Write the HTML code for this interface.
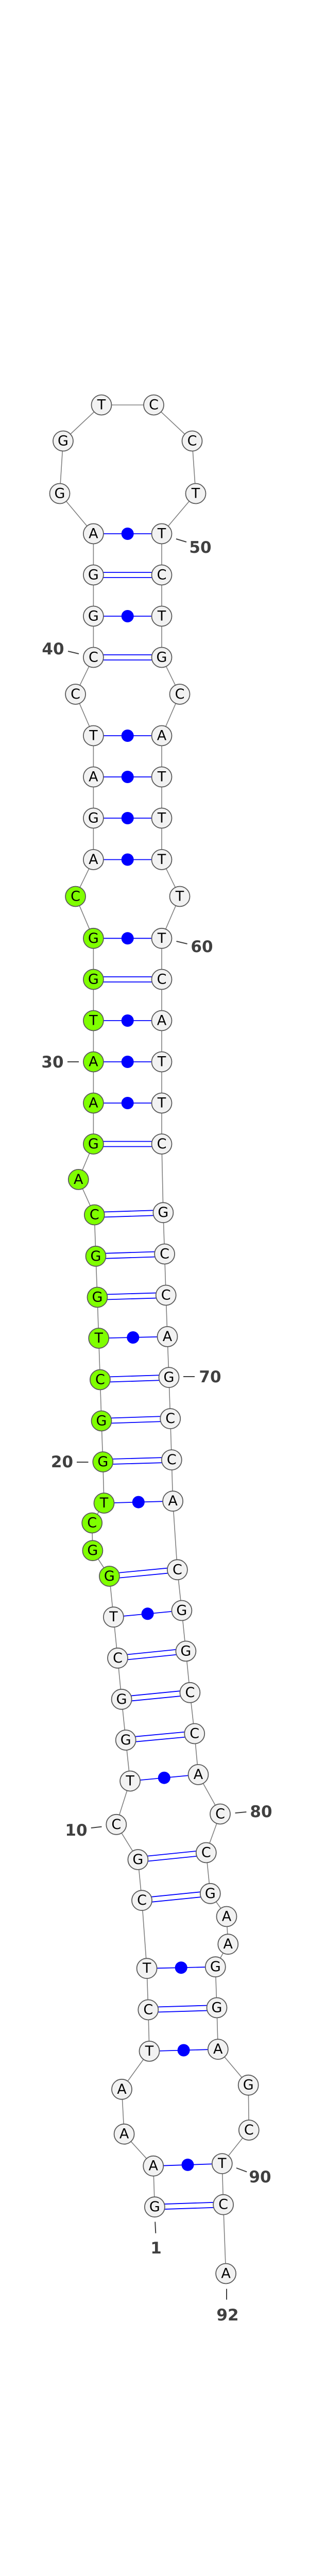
<!DOCTYPE html>
<html><head><meta charset="utf-8"><style>
html,body{margin:0;padding:0;background:#fff;width:600px;height:5218px;overflow:hidden;}
svg{display:block;position:absolute;left:0;top:0;}
.n circle{stroke:#5a5a5a;stroke-width:1.8;}
.n text{font-family:"DejaVu Sans","Liberation Sans",sans-serif;font-size:27px;text-anchor:middle;dominant-baseline:central;fill:#000;}
.lb{font-family:"DejaVu Sans","Liberation Sans",sans-serif;font-size:31px;font-weight:bold;fill:#404040;text-anchor:middle;dominant-baseline:central;}
.tk{stroke:#404040;stroke-width:2;}
</style></head><body>
<svg width="600" height="5218" viewBox="0 0 600 5218" xmlns="http://www.w3.org/2000/svg">
<polyline fill="none" stroke="#808080" stroke-width="1.6" points="
300.4,4283.7 297.7,4204.2 241.1,4142.2 236.5,4055.3 290,3981.4 287.8,3901 285.1,3820.7 275.5,3688.7 267.9,3609.5 225.8,3541.3
252.6,3457 244.2,3377.5 236.1,3298.3 228.5,3218.3 220.4,3138.7 212.4,3059.5 179.9,3009.7 178.7,2956 202,2917.5 199.8,2837.5
197,2758 194.4,2678 191.7,2597.5 189,2518 186,2438.3 183.3,2358 152.3,2289.4 181.4,2220.5 181.4,2141 181.4,2061
181.4,1981 181.4,1901 181.4,1821.3 146.6,1740 181.4,1668.5 181.4,1588 181.4,1508 181.4,1428 146.6,1347.5 181.4,1276
181.4,1196 181.4,1116 181.4,1036 116,958 122.5,856 197,786 298.5,786 373,856 380,958 314,1036
314,1116 314,1196 314,1276 349,1347.5 314,1428 314,1508 314,1588 314,1668.5 349,1740 314,1821.3
314,1901 314,1981 314,2061 314,2141 314,2220.5 316.9,2353.7 319.6,2434 322.2,2514 325,2594.4 328,2673.6
330.7,2753.6 333.3,2833.6 335.6,2913.7 344.4,3046.8 352.9,3126 360.9,3204.9 368.9,3285.3 377.7,3365 385,3444.5 427.5,3521
400.3,3596 408.3,3675.3 440,3720 442.8,3773.7 418.3,3817.7 421,3897 423.3,3977.6 482.2,4047.2 483.3,4134.5 431.3,4199.6
433.6,4279.2 438.6,4413"/>
<g stroke="#0000ff" stroke-width="1.8">
<line x1="300.4" y1="4278.7" x2="433.6" y2="4274.2"/><line x1="300.4" y1="4288.7" x2="433.6" y2="4284.2"/>
<line x1="287.8" y1="3896" x2="421" y2="3892"/><line x1="287.8" y1="3906" x2="421" y2="3902"/>
<line x1="275.5" y1="3683.7" x2="408.3" y2="3670.3"/><line x1="275.5" y1="3693.7" x2="408.3" y2="3680.3"/>
<line x1="267.9" y1="3604.5" x2="400.3" y2="3591"/><line x1="267.9" y1="3614.5" x2="400.3" y2="3601"/>
<line x1="244.2" y1="3372.5" x2="377.7" y2="3360"/><line x1="244.2" y1="3382.5" x2="377.7" y2="3370"/>
<line x1="236.1" y1="3293.3" x2="368.9" y2="3280.3"/><line x1="236.1" y1="3303.3" x2="368.9" y2="3290.3"/>
<line x1="228.5" y1="3213.3" x2="360.9" y2="3199.9"/><line x1="228.5" y1="3223.3" x2="360.9" y2="3209.9"/>
<line x1="212.4" y1="3054.5" x2="344.4" y2="3041.8"/><line x1="212.4" y1="3064.5" x2="344.4" y2="3051.8"/>
<line x1="199.8" y1="2832.5" x2="333.3" y2="2828.6"/><line x1="199.8" y1="2842.5" x2="333.3" y2="2838.6"/>
<line x1="197" y1="2753" x2="330.7" y2="2748.6"/><line x1="197" y1="2763" x2="330.7" y2="2758.6"/>
<line x1="194.4" y1="2673" x2="328" y2="2668.6"/><line x1="194.4" y1="2683" x2="328" y2="2678.6"/>
<line x1="189" y1="2513" x2="322.2" y2="2509"/><line x1="189" y1="2523" x2="322.2" y2="2519"/>
<line x1="186" y1="2433.3" x2="319.6" y2="2429"/><line x1="186" y1="2443.3" x2="319.6" y2="2439"/>
<line x1="183.3" y1="2353" x2="316.9" y2="2348.7"/><line x1="183.3" y1="2363" x2="316.9" y2="2358.7"/>
<line x1="181.4" y1="2215.5" x2="314" y2="2215.5"/><line x1="181.4" y1="2225.5" x2="314" y2="2225.5"/>
<line x1="181.4" y1="1896" x2="314" y2="1896"/><line x1="181.4" y1="1906" x2="314" y2="1906"/>
<line x1="181.4" y1="1271" x2="314" y2="1271"/><line x1="181.4" y1="1281" x2="314" y2="1281"/>
<line x1="181.4" y1="1111" x2="314" y2="1111"/><line x1="181.4" y1="1121" x2="314" y2="1121"/>
<line x1="297.7" y1="4204.2" x2="431.3" y2="4199.6"/>
<line x1="290" y1="3981.4" x2="423.3" y2="3977.6"/>
<line x1="285.1" y1="3820.7" x2="418.3" y2="3817.7"/>
<line x1="252.6" y1="3457" x2="385" y2="3444.5"/>
<line x1="220.4" y1="3138.7" x2="352.9" y2="3126"/>
<line x1="202" y1="2917.5" x2="335.6" y2="2913.7"/>
<line x1="191.7" y1="2597.5" x2="325" y2="2594.4"/>
<line x1="181.4" y1="2141" x2="314" y2="2141"/>
<line x1="181.4" y1="2061" x2="314" y2="2061"/>
<line x1="181.4" y1="1981" x2="314" y2="1981"/>
<line x1="181.4" y1="1821.3" x2="314" y2="1821.3"/>
<line x1="181.4" y1="1668.5" x2="314" y2="1668.5"/>
<line x1="181.4" y1="1588" x2="314" y2="1588"/>
<line x1="181.4" y1="1508" x2="314" y2="1508"/>
<line x1="181.4" y1="1428" x2="314" y2="1428"/>
<line x1="181.4" y1="1196" x2="314" y2="1196"/>
<line x1="181.4" y1="1036" x2="314" y2="1036"/>
</g>
<g fill="#0000ff">
<circle cx="364.5" cy="4201.9" r="12"/><circle cx="356.6" cy="3979.5" r="12"/><circle cx="351.7" cy="3819.2" r="12"/>
<circle cx="318.8" cy="3450.7" r="12"/><circle cx="286.6" cy="3132.3" r="12"/><circle cx="268.8" cy="2915.6" r="12"/>
<circle cx="258.3" cy="2596" r="12"/><circle cx="247.7" cy="2141" r="12"/><circle cx="247.7" cy="2061" r="12"/>
<circle cx="247.7" cy="1981" r="12"/><circle cx="247.7" cy="1821.3" r="12"/><circle cx="247.7" cy="1668.5" r="12"/>
<circle cx="247.7" cy="1588" r="12"/><circle cx="247.7" cy="1508" r="12"/><circle cx="247.7" cy="1428" r="12"/>
<circle cx="247.7" cy="1196" r="12"/><circle cx="247.7" cy="1036" r="12"/>
</g>
<g class="n" fill="#f2f2f2">
<circle cx="300.4" cy="4283.7" r="19.5"/><text x="300.4" y="4283.7">G</text>
<circle cx="297.7" cy="4204.2" r="19.5"/><text x="297.7" y="4204.2">A</text>
<circle cx="241.1" cy="4142.2" r="19.5"/><text x="241.1" y="4142.2">A</text>
<circle cx="236.5" cy="4055.3" r="19.5"/><text x="236.5" y="4055.3">A</text>
<circle cx="290" cy="3981.4" r="19.5"/><text x="290" y="3981.4">T</text>
<circle cx="287.8" cy="3901" r="19.5"/><text x="287.8" y="3901">C</text>
<circle cx="285.1" cy="3820.7" r="19.5"/><text x="285.1" y="3820.7">T</text>
<circle cx="275.5" cy="3688.7" r="19.5"/><text x="275.5" y="3688.7">C</text>
<circle cx="267.9" cy="3609.5" r="19.5"/><text x="267.9" y="3609.5">G</text>
<circle cx="225.8" cy="3541.3" r="19.5"/><text x="225.8" y="3541.3">C</text>
<circle cx="252.6" cy="3457" r="19.5"/><text x="252.6" y="3457">T</text>
<circle cx="244.2" cy="3377.5" r="19.5"/><text x="244.2" y="3377.5">G</text>
<circle cx="236.1" cy="3298.3" r="19.5"/><text x="236.1" y="3298.3">G</text>
<circle cx="228.5" cy="3218.3" r="19.5"/><text x="228.5" y="3218.3">C</text>
<circle cx="220.4" cy="3138.7" r="19.5"/><text x="220.4" y="3138.7">T</text>
</g>
<g class="n" fill="#7fff00">
<circle cx="212.4" cy="3059.5" r="19.5"/><text x="212.4" y="3059.5">G</text>
<circle cx="179.9" cy="3009.7" r="19.5"/><text x="179.9" y="3009.7">G</text>
<circle cx="178.7" cy="2956" r="19.5"/><text x="178.7" y="2956">C</text>
<circle cx="202" cy="2917.5" r="19.5"/><text x="202" y="2917.5">T</text>
<circle cx="199.8" cy="2837.5" r="19.5"/><text x="199.8" y="2837.5">G</text>
<circle cx="197" cy="2758" r="19.5"/><text x="197" y="2758">G</text>
<circle cx="194.4" cy="2678" r="19.5"/><text x="194.4" y="2678">C</text>
<circle cx="191.7" cy="2597.5" r="19.5"/><text x="191.7" y="2597.5">T</text>
<circle cx="189" cy="2518" r="19.5"/><text x="189" y="2518">G</text>
<circle cx="186" cy="2438.3" r="19.5"/><text x="186" y="2438.3">G</text>
<circle cx="183.3" cy="2358" r="19.5"/><text x="183.3" y="2358">C</text>
<circle cx="152.3" cy="2289.4" r="19.5"/><text x="152.3" y="2289.4">A</text>
<circle cx="181.4" cy="2220.5" r="19.5"/><text x="181.4" y="2220.5">G</text>
<circle cx="181.4" cy="2141" r="19.5"/><text x="181.4" y="2141">A</text>
<circle cx="181.4" cy="2061" r="19.5"/><text x="181.4" y="2061">A</text>
<circle cx="181.4" cy="1981" r="19.5"/><text x="181.4" y="1981">T</text>
<circle cx="181.4" cy="1901" r="19.5"/><text x="181.4" y="1901">G</text>
<circle cx="181.4" cy="1821.3" r="19.5"/><text x="181.4" y="1821.3">G</text>
<circle cx="146.6" cy="1740" r="19.5"/><text x="146.6" y="1740">C</text>
</g>
<g class="n" fill="#f2f2f2">
<circle cx="181.4" cy="1668.5" r="19.5"/><text x="181.4" y="1668.5">A</text>
<circle cx="181.4" cy="1588" r="19.5"/><text x="181.4" y="1588">G</text>
<circle cx="181.4" cy="1508" r="19.5"/><text x="181.4" y="1508">A</text>
<circle cx="181.4" cy="1428" r="19.5"/><text x="181.4" y="1428">T</text>
<circle cx="146.6" cy="1347.5" r="19.5"/><text x="146.6" y="1347.5">C</text>
<circle cx="181.4" cy="1276" r="19.5"/><text x="181.4" y="1276">C</text>
<circle cx="181.4" cy="1196" r="19.5"/><text x="181.4" y="1196">G</text>
<circle cx="181.4" cy="1116" r="19.5"/><text x="181.4" y="1116">G</text>
<circle cx="181.4" cy="1036" r="19.5"/><text x="181.4" y="1036">A</text>
<circle cx="116" cy="958" r="19.5"/><text x="116" y="958">G</text>
<circle cx="122.5" cy="856" r="19.5"/><text x="122.5" y="856">G</text>
<circle cx="197" cy="786" r="19.5"/><text x="197" y="786">T</text>
<circle cx="298.5" cy="786" r="19.5"/><text x="298.5" y="786">C</text>
<circle cx="373" cy="856" r="19.5"/><text x="373" y="856">C</text>
<circle cx="380" cy="958" r="19.5"/><text x="380" y="958">T</text>
<circle cx="314" cy="1036" r="19.5"/><text x="314" y="1036">T</text>
<circle cx="314" cy="1116" r="19.5"/><text x="314" y="1116">C</text>
<circle cx="314" cy="1196" r="19.5"/><text x="314" y="1196">T</text>
<circle cx="314" cy="1276" r="19.5"/><text x="314" y="1276">G</text>
<circle cx="349" cy="1347.5" r="19.5"/><text x="349" y="1347.5">C</text>
<circle cx="314" cy="1428" r="19.5"/><text x="314" y="1428">A</text>
<circle cx="314" cy="1508" r="19.5"/><text x="314" y="1508">T</text>
<circle cx="314" cy="1588" r="19.5"/><text x="314" y="1588">T</text>
<circle cx="314" cy="1668.5" r="19.5"/><text x="314" y="1668.5">T</text>
<circle cx="349" cy="1740" r="19.5"/><text x="349" y="1740">T</text>
<circle cx="314" cy="1821.3" r="19.5"/><text x="314" y="1821.3">T</text>
<circle cx="314" cy="1901" r="19.5"/><text x="314" y="1901">C</text>
<circle cx="314" cy="1981" r="19.5"/><text x="314" y="1981">A</text>
<circle cx="314" cy="2061" r="19.5"/><text x="314" y="2061">T</text>
<circle cx="314" cy="2141" r="19.5"/><text x="314" y="2141">T</text>
<circle cx="314" cy="2220.5" r="19.5"/><text x="314" y="2220.5">C</text>
<circle cx="316.9" cy="2353.7" r="19.5"/><text x="316.9" y="2353.7">G</text>
<circle cx="319.6" cy="2434" r="19.5"/><text x="319.6" y="2434">C</text>
<circle cx="322.2" cy="2514" r="19.5"/><text x="322.2" y="2514">C</text>
<circle cx="325" cy="2594.4" r="19.5"/><text x="325" y="2594.4">A</text>
<circle cx="328" cy="2673.6" r="19.5"/><text x="328" y="2673.6">G</text>
<circle cx="330.7" cy="2753.6" r="19.5"/><text x="330.7" y="2753.6">C</text>
<circle cx="333.3" cy="2833.6" r="19.5"/><text x="333.3" y="2833.6">C</text>
<circle cx="335.6" cy="2913.7" r="19.5"/><text x="335.6" y="2913.7">A</text>
<circle cx="344.4" cy="3046.8" r="19.5"/><text x="344.4" y="3046.8">C</text>
<circle cx="352.9" cy="3126" r="19.5"/><text x="352.9" y="3126">G</text>
<circle cx="360.9" cy="3204.9" r="19.5"/><text x="360.9" y="3204.9">G</text>
<circle cx="368.9" cy="3285.3" r="19.5"/><text x="368.9" y="3285.3">C</text>
<circle cx="377.7" cy="3365" r="19.5"/><text x="377.7" y="3365">C</text>
<circle cx="385" cy="3444.5" r="19.5"/><text x="385" y="3444.5">A</text>
<circle cx="427.5" cy="3521" r="19.5"/><text x="427.5" y="3521">C</text>
<circle cx="400.3" cy="3596" r="19.5"/><text x="400.3" y="3596">C</text>
<circle cx="408.3" cy="3675.3" r="19.5"/><text x="408.3" y="3675.3">G</text>
<circle cx="440" cy="3720" r="19.5"/><text x="440" y="3720">A</text>
<circle cx="442.8" cy="3773.7" r="19.5"/><text x="442.8" y="3773.7">A</text>
<circle cx="418.3" cy="3817.7" r="19.5"/><text x="418.3" y="3817.7">G</text>
<circle cx="421" cy="3897" r="19.5"/><text x="421" y="3897">G</text>
<circle cx="423.3" cy="3977.6" r="19.5"/><text x="423.3" y="3977.6">A</text>
<circle cx="482.2" cy="4047.2" r="19.5"/><text x="482.2" y="4047.2">G</text>
<circle cx="483.3" cy="4134.5" r="19.5"/><text x="483.3" y="4134.5">C</text>
<circle cx="431.3" cy="4199.6" r="19.5"/><text x="431.3" y="4199.6">T</text>
<circle cx="433.6" cy="4279.2" r="19.5"/><text x="433.6" y="4279.2">C</text>
<circle cx="438.6" cy="4413" r="19.5"/><text x="438.6" y="4413">A</text>
</g>
<g class="tk">
<line x1="342" y1="1046" x2="362" y2="1052"/>
<line x1="132" y1="1264" x2="153" y2="1269"/>
<line x1="342.5" y1="1827" x2="363.6" y2="1832"/>
<line x1="131" y1="2061" x2="153" y2="2061"/>
<line x1="356" y1="2672" x2="378" y2="2672"/>
<line x1="149" y1="2838" x2="171.5" y2="2838"/>
<line x1="176.8" y1="3548" x2="197.5" y2="3545.6"/>
<line x1="456.6" y1="3519" x2="478.4" y2="3517"/>
<line x1="301.2" y1="4312.5" x2="302.3" y2="4334.7"/>
<line x1="458.9" y1="4208" x2="479.2" y2="4215.6"/>
<line x1="440" y1="4442.6" x2="440" y2="4463.6"/>
</g>
<g class="lb">
<text x="389" y="1063">50</text>
<text x="103" y="1260">40</text>
<text x="392" y="1838">60</text>
<text x="102" y="2062">30</text>
<text x="408" y="2673">70</text>
<text x="120.5" y="2838">20</text>
<text x="148" y="3553">10</text>
<text x="507" y="3517">80</text>
<text x="303" y="4364">1</text>
<text x="505" y="4226">90</text>
<text x="442" y="4494">92</text>
</g>
<text x="300" y="5212" font-family="DejaVu Sans, Liberation Sans, sans-serif" font-size="10" font-weight="bold" fill="#222" text-anchor="middle">dan_153_annot [-40.7]</text>
</svg>
</body></html>
